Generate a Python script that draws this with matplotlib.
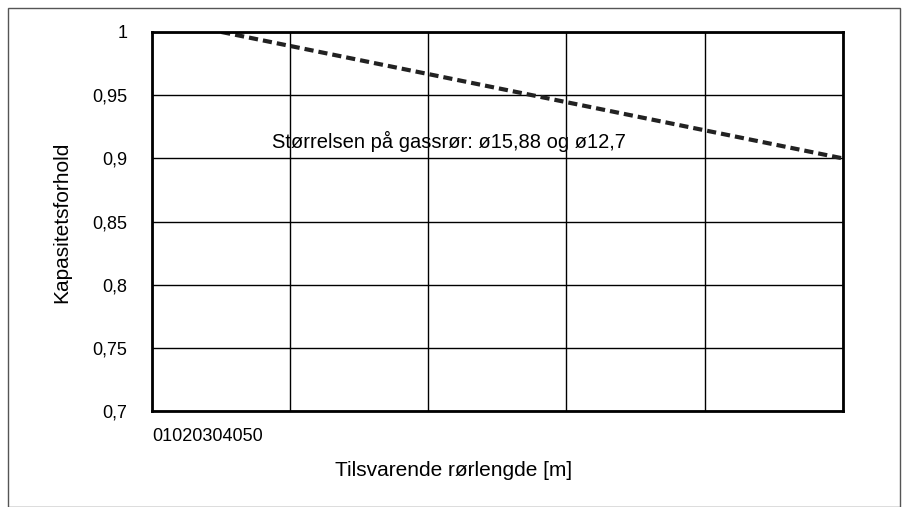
import matplotlib.pyplot as plt
from matplotlib.patches import Rectangle
from matplotlib.ticker import FuncFormatter

plt.rcParams["font.family"] = ["Liberation Sans", "DejaVu Sans"]

# data
pipe_length = [5, 50]
capacity_ratio = [1.0, 0.9]
y_ticks = [0.7, 0.75, 0.8, 0.85, 0.9, 0.95, 1.0]
x_grid = [0, 10, 20, 30, 40, 50]
x_tick_text = "01020304050"
note = "Størrelsen på gassrør: ø15,88 og ø12,7"

fig = plt.figure(figsize=(9.06, 5.07), dpi=100)
ax = fig.add_axes([0.168, 0.189, 0.762, 0.748])

ax.plot(pipe_length, capacity_ratio, color="#222222", lw=3, ls=(0, (2.2, 1.2)))
ax.set_xlim(0, 50)
ax.set_ylim(0.7, 1.0)
ax.set_yticks(y_ticks)
ax.yaxis.set_major_formatter(FuncFormatter(lambda v, p: f"{v:g}".replace(".", ",")))
ax.set_xticks(x_grid)
ax.set_xticklabels([])
ax.tick_params(axis="x", length=0)
ax.tick_params(axis="y", length=0, labelsize=13, pad=18)
ax.grid(True, color="black", lw=1)
for s in ax.spines.values():
    s.set_linewidth(2)

ax.text(0.0, -0.045, x_tick_text, transform=ax.transAxes, ha="left", va="top", fontsize=13)
ax.text(8.7, 0.913, note, fontsize=14.5, va="center", ha="left")
fig.text(454 / 906, 1 - 470 / 507, "Tilsvarende rørlengde [m]", fontsize=15, ha="center", va="center")
fig.text(62 / 906, 1 - 222 / 507, "Kapasitetsforhold", fontsize=15, rotation=90, ha="center", va="center")

fig.patches.append(Rectangle((8 / 906, 0), 892 / 906, 499 / 507, transform=fig.transFigure,
                             fill=False, edgecolor="#555555", lw=1))

fig.savefig("out.png", dpi=100)
